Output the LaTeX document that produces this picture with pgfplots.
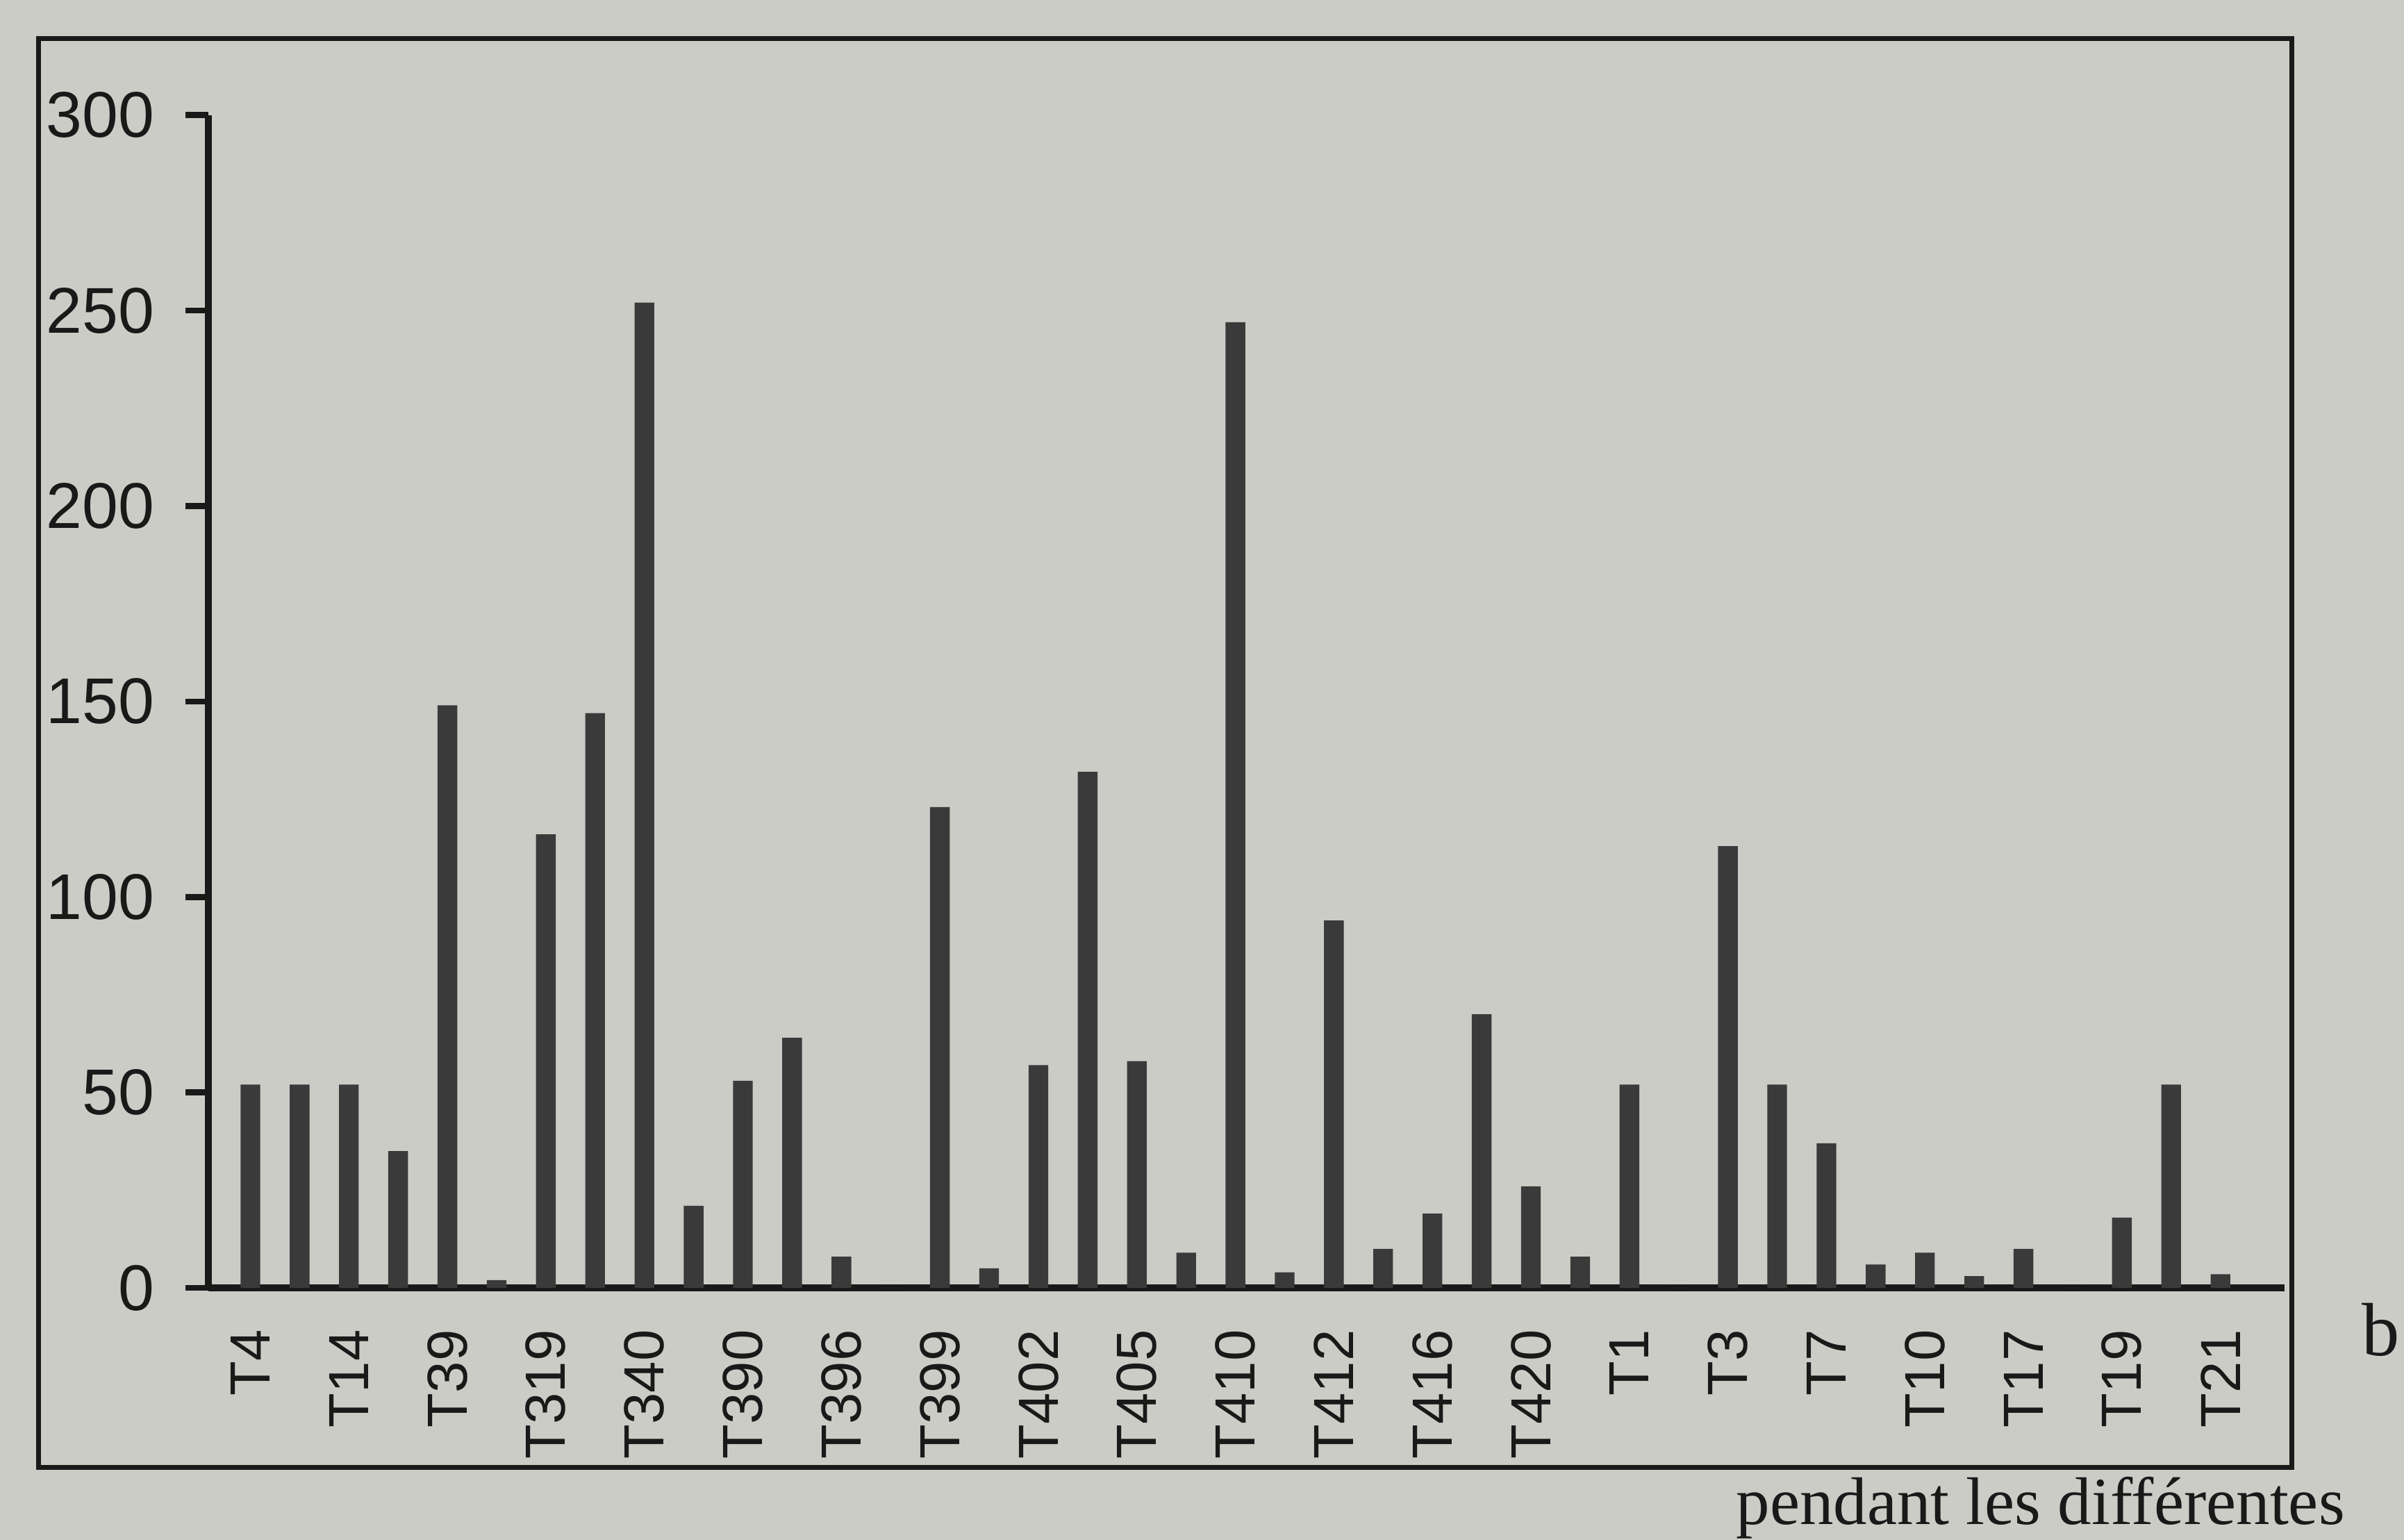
\documentclass[border=0pt]{standalone}
\usepackage{pgfplots}
\pgfplotsset{compat=1.18}
\usepackage{pgfplotstable}
\usepackage{fontspec}
\setmainfont{Liberation Sans}
\newfontfamily\seriffont{Liberation Serif}
\definecolor{paper}{RGB}{204,204,199}
\definecolor{barc}{RGB}{58,58,58}
\definecolor{ink}{RGB}{25,25,25}

\pgfplotstableread{
x y
0 52
1 52
2 52
3 35
4 149
5 2
6 116
7 147
8 252
9 21
10 53
11 64
12 8
13 0
14 123
15 5
16 57
17 132
18 58
19 9
20 247
21 4
22 94
23 10
24 19
25 70
26 26
27 8
28 52
29 0
30 113
31 52
32 37
33 6
34 9
35 3
36 10
37 0
38 18
39 52
40 3.5
}\datatable

\begin{document}
\begin{tikzpicture}
\useasboundingbox (0,0) rectangle (15.68,10.04);
\fill[paper] (-0.2,-0.5) rectangle (15.9,10.3);
\draw[ink, line width=0.9pt] (0.25,0.47) rectangle (14.95,9.79);
\begin{axis}[
  at={(1.36cm,1.64cm)}, anchor=south west,
  scale only axis, width=13.54cm, height=7.65cm,
  xmin=-0.85, xmax=41.3, ymin=0, ymax=300,
  axis lines=left,
  axis line style={-, ink, line width=1.3pt},
  ytick={0,50,100,150,200,250,300},
  tick align=outside,
  major tick length=0.15cm,
  ytick style={ink, line width=1.1pt},
  xtick={0,2,...,40},
  xtick style={draw=none},
  xticklabels={T4,T14,T39,T319,T340,T390,T396,T399,T402,T405,T410,T412,T416,T420,T1,T3,T7,T10,T17,T19,T21},
  xticklabel style={rotate=90, anchor=east, font=\fontsize{10.5}{12}\selectfont, text=ink},
  yticklabel style={font=\fontsize{12}{14}\selectfont, text=ink, xshift=-0.08cm},
  /pgf/number format/assume math mode=true,
  ybar, bar width=0.4,
  clip=false,
]
\addplot[fill=barc, draw=none] table[x=x, y=y] {\datatable};
\end{axis}
\node[anchor=base west, font=\seriffont\fontsize{14}{16}\selectfont, text=ink, inner sep=0pt] at (15.40,1.20) {b};
\node[anchor=base east, font=\seriffont\fontsize{12.5}{14}\selectfont, text=ink, inner sep=0pt] at (15.30,0.10) {pendant les différentes};
\end{tikzpicture}
\end{document}
